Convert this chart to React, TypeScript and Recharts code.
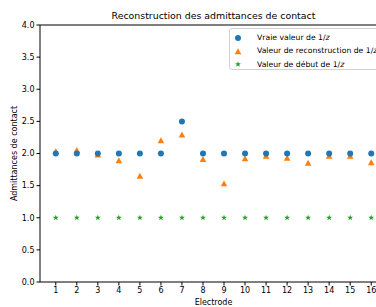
import React from 'react';
import {
  ScatterChart, Scatter, XAxis, YAxis, ReferenceLine,
} from 'recharts';

const electrodes = [1, 2, 3, 4, 5, 6, 7, 8, 9, 10, 11, 12, 13, 14, 15, 16];
const trueValues = [2, 2, 2, 2, 2, 2, 2.5, 2, 2, 2, 2, 2, 2, 2, 2, 2];
const reconValues = [2.03, 2.05, 1.98, 1.89, 1.65, 2.2, 2.29, 1.91, 1.53, 1.92, 1.96, 1.93, 1.85, 1.96, 1.96, 1.86];
const startValues = [1, 1, 1, 1, 1, 1, 1, 1, 1, 1, 1, 1, 1, 1, 1, 1];
const yTicks = [0, 0.5, 1, 1.5, 2, 2.5, 3, 3.5, 4];

const BLUE = '#1f77b4';
const ORANGE = '#ff7f0e';
const GREEN = '#2ca02c';
const FONT = '"DejaVu Sans", sans-serif';

const toPoints = (vals: number[]) => electrodes.map((e, i) => ({ x: e, y: vals[i] }));

function Dot(props: any) {
  const { cx, cy } = props;
  return <circle cx={cx} cy={cy} r={3} fill={BLUE} />;
}

function Tri(props: any) {
  const { cx, cy } = props;
  const s = 3.3;
  return (
    <polygon
      points={`${cx},${cy - s} ${cx - s},${cy + s * 0.8} ${cx + s},${cy + s * 0.8}`}
      fill={ORANGE}
    />
  );
}

function starPoints(cx: number, cy: number, ro: number, ri: number) {
  const pts: string[] = [];
  for (let i = 0; i < 10; i++) {
    const r = i % 2 === 0 ? ro : ri;
    const a = -Math.PI / 2 + (i * Math.PI) / 5;
    pts.push(`${cx + r * Math.cos(a)},${cy + r * Math.sin(a)}`);
  }
  return pts.join(' ');
}

function Star(props: any) {
  const { cx, cy } = props;
  return <polygon points={starPoints(cx, cy, 3, 1.3)} fill={GREEN} />;
}

const legendItems = [
  { label: 'Vraie valeur de ', kind: 'dot' },
  { label: 'Valeur de reconstruction de ', kind: 'tri' },
  { label: 'Valeur de début de ', kind: 'star' },
];

function LegendMarker({ kind }: { kind: string }) {
  return (
    <svg width={8} height={8} style={{ display: 'block' }}>
      {kind === 'dot' && <Dot cx={4} cy={4} />}
      {kind === 'tri' && <Tri cx={4} cy={4.5} />}
      {kind === 'star' && <Star cx={4} cy={4.3} />}
    </svg>
  );
}

export default function App() {
  return (
    <div
      style={{
        position: 'absolute', left: 0, top: 0, width: 376, height: 307,
        overflow: 'hidden', background: '#fff', fontFamily: FONT,
      }}
    >
      <div
        style={{
          position: 'absolute', left: 40, width: 347, top: 10, textAlign: 'center',
          fontSize: 9.4, color: '#000', lineHeight: '12px',
        }}
      >
        Reconstruction des admittances de contact
      </div>
      <ScatterChart width={400} height={307} margin={{ top: 25, right: 13, bottom: 0, left: 0 }}>
        <XAxis
          type="number"
          dataKey="x"
          domain={[0.25, 16.75]}
          ticks={electrodes}
          interval={0}
          allowDataOverflow
          height={25}
          tickSize={3.5}
          stroke="#000"
          tick={{ fill: '#000', fontSize: 8, fontFamily: FONT }}
          label={{ value: 'Electrode', position: 'insideBottom', offset: 2, fill: '#000', fontSize: 8, fontFamily: FONT }}
        />
        <YAxis
          type="number"
          dataKey="y"
          domain={[0, 4]}
          ticks={yTicks}
          interval={0}
          width={40}
          tickSize={3.5}
          stroke="#000"
          tickFormatter={(v: number) => v.toFixed(1)}
          tick={{ fill: '#000', fontSize: 8, fontFamily: FONT }}
          label={{ value: 'Admittances de contact', angle: -90, position: 'center', dx: -6, fill: '#000', fontSize: 8, fontFamily: FONT }}
        />
        <ReferenceLine y={4} stroke="#000" />
        <Scatter data={toPoints(startValues)} shape={<Star />} isAnimationActive={false} />
        <Scatter data={toPoints(reconValues)} shape={<Tri />} isAnimationActive={false} />
        <Scatter data={toPoints(trueValues)} shape={<Dot />} isAnimationActive={false} />
      </ScatterChart>
      <div
        style={{
          position: 'absolute', left: 229, top: 28, width: 160, height: 42,
          border: '1px solid #d0d0d0', borderRadius: 3, background: 'rgba(255,255,255,0.8)',
          boxSizing: 'border-box', paddingTop: 2,
        }}
      >
        {legendItems.map((it) => (
          <div
            key={it.kind}
            style={{ display: 'flex', alignItems: 'center', height: 13.3, fontSize: 7.7, color: '#000', whiteSpace: 'nowrap' }}
          >
            <div style={{ width: 27, boxSizing: 'border-box', paddingLeft: 4, flexShrink: 0 }}>
              <LegendMarker kind={it.kind} />
            </div>
            <span>{it.label}1/<i>z</i></span>
          </div>
        ))}
      </div>
    </div>
  );
}
